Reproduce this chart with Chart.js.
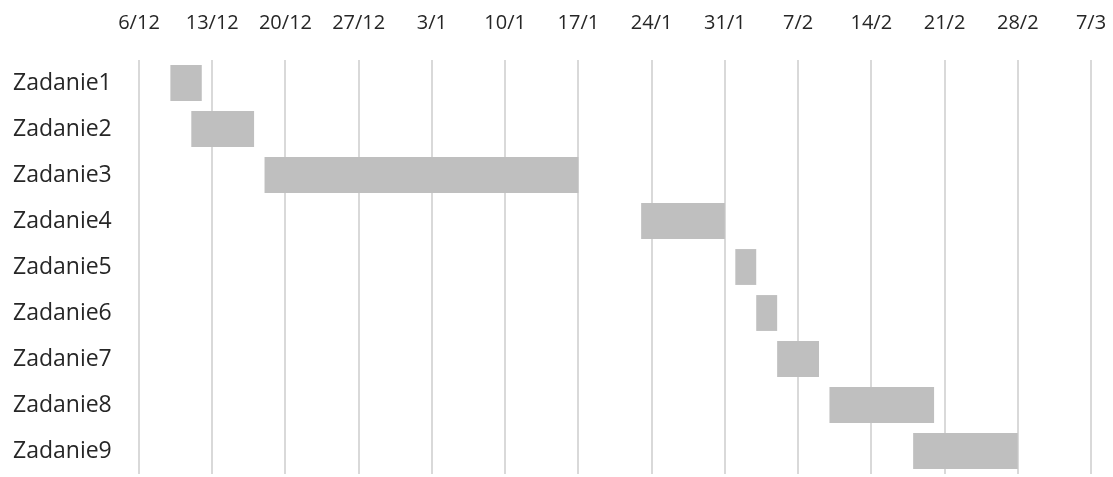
<!DOCTYPE html>
<html>
<head>
<meta charset="utf-8">
<script src="https://cdn.jsdelivr.net/npm/chart.js@4/dist/chart.umd.min.js"></script>
<style>
  body { margin: 0; background: #fff; }
  #wrap { width: 1113px; height: 477px; }
</style>
</head>
<body>
<div id="wrap"><canvas id="gantt"></canvas></div>
<script>
// tasks and their dates
const tasks = ["Zadanie1","Zadanie2","Zadanie3","Zadanie4","Zadanie5","Zadanie6","Zadanie7","Zadanie8","Zadanie9"];
const startDates = ["2016-12-09","2016-12-11","2016-12-18","2017-01-23","2017-02-01","2017-02-03","2017-02-05","2017-02-10","2017-02-18"];
const endDates   = ["2016-12-12","2016-12-17","2017-01-17","2017-01-31","2017-02-03","2017-02-05","2017-02-09","2017-02-20","2017-02-28"];
const axisStart = "2016-12-06";
const axisEnd = "2017-03-07";

const DAY = 86400000;
function dayNo(s) {
  let p = s.split("-");
  return Math.round((Date.UTC(+p[0], +p[1]-1, +p[2]) - Date.UTC(2016, 11, 6)) / DAY);
}
function label(v) {
  let d = new Date(Date.UTC(2016, 11, 6) + v * DAY);
  return d.getUTCDate() + "/" + (d.getUTCMonth() + 1);
}

let ranges = [];
for (let i = 0; i < tasks.length; i++) {
  ranges.push([dayNo(startDates[i]), dayNo(endDates[i])]);
}

let ctx = document.getElementById("gantt");
let chart = new Chart(ctx, {
  type: "bar",
  data: {
    labels: tasks,
    datasets: [{
      data: ranges,
      backgroundColor: "#bfbfbf",
      borderWidth: 0,
      categoryPercentage: 1,
      barPercentage: 0.78
    }]
  },
  options: {
    indexAxis: "y",
    responsive: true,
    maintainAspectRatio: false,
    animation: false,
    layout: { padding: { left: 13, right: 22, top: 0, bottom: 3 } },
    plugins: { legend: { display: false }, tooltip: { enabled: false } },
    scales: {
      x: {
        position: "top",
        min: dayNo(axisStart),
        max: dayNo(axisEnd),
        border: { display: false },
        grid: { color: "#d9d9d9", lineWidth: 2, drawTicks: false },
        ticks: {
          stepSize: 7,
          padding: 25,
          color: "#262626",
          font: { family: "Open Sans", size: 20 },
          callback: function(v) { return label(v); }
        },
        afterFit: function(scale) {
          scale.height = 60;
          scale.paddingLeft = 0;
          scale.paddingRight = 0;
        }
      },
      y: {
        border: { display: false },
        grid: { display: false },
        ticks: {
          crossAlign: "far",
          color: "#262626",
          font: { family: "Open Sans", size: 23 }
        },
        afterFit: function(scale) {
          scale.width = 126;
          scale.paddingTop = 0;
          scale.paddingBottom = 0;
        }
      }
    }
  }
});
</script>
</body>
</html>
